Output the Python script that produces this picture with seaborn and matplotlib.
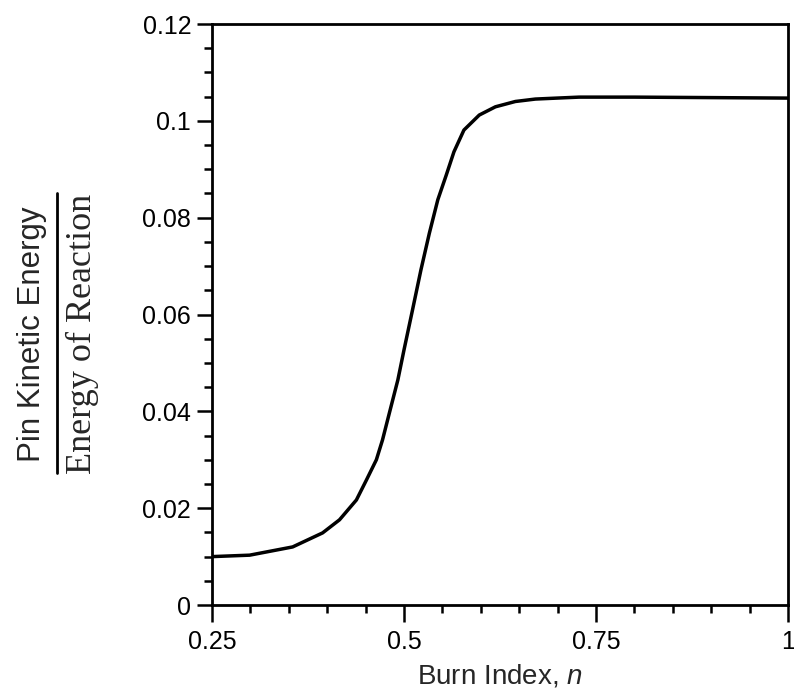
import matplotlib
matplotlib.use("Agg")
import matplotlib.pyplot as plt
from matplotlib.lines import Line2D
from matplotlib.ticker import MultipleLocator, FixedLocator
import pandas as pd
import seaborn as sns

# values
burn_index = [0.25, 0.299, 0.355, 0.394, 0.416, 0.438, 0.451, 0.464, 0.472,
              0.481, 0.492, 0.500, 0.511, 0.522, 0.533, 0.544, 0.555, 0.565,
              0.578, 0.598, 0.619, 0.645, 0.671, 0.699, 0.728, 0.80, 0.90, 1.0]
energy_ratio = [0.0100, 0.0103, 0.0120, 0.0149, 0.0176, 0.0217, 0.0258, 0.0300,
                0.0341, 0.0397, 0.0465, 0.0527, 0.0609, 0.0692, 0.0768, 0.0837,
                0.0888, 0.0936, 0.0981, 0.1012, 0.1029, 0.1040, 0.1045, 0.1047,
                0.1049, 0.1049, 0.1048, 0.1047]

x_ticks = [0.25, 0.5, 0.75, 1.0]
x_tick_labels = ["0.25", "0.5", "0.75", "1"]
y_ticks = [0, 0.02, 0.04, 0.06, 0.08, 0.1, 0.12]
y_tick_labels = ["0", "0.02", "0.04", "0.06", "0.08", "0.1", "0.12"]

df = pd.DataFrame({"n": burn_index, "ratio": energy_ratio})

sns.set_theme(style="ticks")
plt.rcParams["font.family"] = ["Liberation Sans", "DejaVu Sans"]
plt.rcParams["mathtext.fontset"] = "custom"
plt.rcParams["mathtext.it"] = "Liberation Sans:italic"
plt.rcParams["mathtext.rm"] = "Liberation Sans"

fig = plt.figure(figsize=(7.94, 6.96), dpi=100)
ax = fig.add_axes([0.267, 0.1307, 0.7255, 0.8348])

sns.lineplot(data=df, x="n", y="ratio", ax=ax, color="black", linewidth=2.5)

ax.set_xlim(0.25, 1.0)
ax.set_ylim(0, 0.12)
ax.xaxis.set_major_locator(FixedLocator(x_ticks))
ax.set_xticklabels(x_tick_labels)
ax.yaxis.set_major_locator(FixedLocator(y_ticks))
ax.set_yticklabels(y_tick_labels)
ax.xaxis.set_minor_locator(MultipleLocator(0.05))
ax.yaxis.set_minor_locator(MultipleLocator(0.005))

for s in ax.spines.values():
    s.set_linewidth(2.0)
    s.set_color("black")

ax.tick_params(axis="both", which="both", direction="out", colors="black",
               top=False, right=False, width=1.8)
ax.tick_params(axis="y", which="major", length=11, pad=4, labelsize=18)
ax.tick_params(axis="y", which="minor", length=6)
ax.tick_params(axis="x", which="major", length=12, pad=6, labelsize=18)
ax.tick_params(axis="x", which="minor", length=6)

ax.set_xlabel("Burn Index, $n$", fontsize=20, labelpad=6)
ax.set_ylabel("")

# fraction-style y label
fig.text(0.040, 0.52, "Pin Kinetic Energy", rotation=90, ha="center",
         va="center", fontsize=22.5, family=["Liberation Sans"])
fig.add_artist(Line2D([0.072, 0.072], [0.320, 0.723], color="black",
                      linewidth=2.0, transform=fig.transFigure))
fig.text(0.104, 0.52, "Energy of Reaction", rotation=90, ha="center",
         va="center", fontsize=26, family=["Liberation Serif"])

fig.savefig("out.png", dpi=100)
